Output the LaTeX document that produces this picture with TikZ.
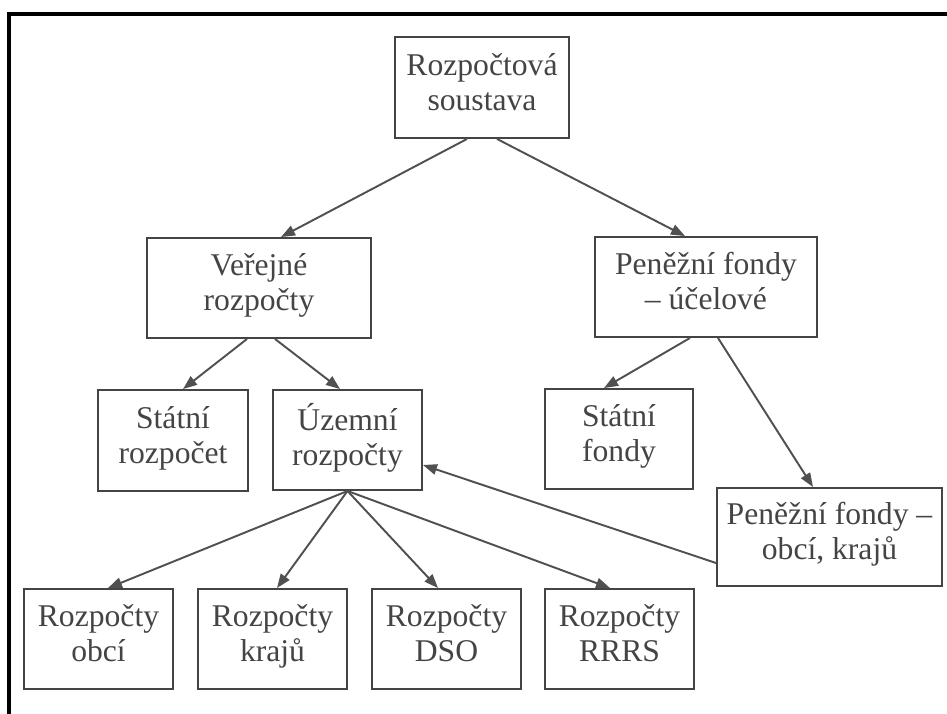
\documentclass[tikz,border=0pt]{standalone}
\usepackage{fontspec}
\setmainfont{Liberation Serif}
\usetikzlibrary{arrows.meta}

\definecolor{inkgray}{HTML}{444444}
\definecolor{linegray}{HTML}{505050}

\tikzset{
    box/.style={draw=inkgray, line width=1.1pt, text=inkgray, align=center,
        inner sep=0pt, font=\fontsize{18}{20}\selectfont,
        execute at begin node=\rule{0pt}{16.5pt},
        execute at end node=\rule[-6.7pt]{0pt}{6.7pt}},
    arr/.style={draw=linegray, line width=1.1pt,
        -{Triangle[length=2.8mm,width=2.1mm]}}
}

\begin{document}
\begin{tikzpicture}

    \useasboundingbox (0,0) rectangle (18.94,-14.26);

    % Frame
    \draw[line width=1.8pt] (0.18,-14.4) -- (0.18,-0.28) -- (19.1,-0.28);

    % Boxes
    \node[box, minimum width=3.48cm, minimum height=2.02cm] (rs) at (9.64,-1.75) {Rozpočtová\\soustava};

    \node[box, minimum width=4.48cm, minimum height=2cm] (vr) at (5.18,-5.76) {Veřejné\\rozpočty};
    \node[box, minimum width=4.44cm, minimum height=2cm] (pfu) at (14.12,-5.74) {Peněžní fondy\\– účelové};

    \node[box, minimum width=3cm, minimum height=2.02cm] (sr) at (3.46,-8.81) {Státní\\rozpočet};
    \node[box, minimum width=2.98cm, minimum height=2cm] (ur) at (6.95,-8.80) {Územní\\rozpočty};
    \node[box, minimum width=2.96cm, minimum height=2cm] (sf) at (12.38,-8.78) {Státní\\fondy};
    \node[box, minimum width=4.5cm, minimum height=1.96cm] (pfo) at (16.59,-10.74) {Peněžní fondy –\\obcí, krajů};

    \node[box, minimum width=2.98cm, minimum height=2cm] (ro) at (1.97,-12.78) {Rozpočty\\obcí};
    \node[box, minimum width=2.98cm, minimum height=2cm] (rk) at (5.45,-12.78) {Rozpočty\\krajů};
    \node[box, minimum width=2.98cm, minimum height=2cm] (rd) at (8.93,-12.78) {Rozpočty\\DSO};
    \node[box, minimum width=2.98cm, minimum height=2cm] (rr) at (12.39,-12.78) {Rozpočty\\RRRS};

    % Arrows
    \draw[arr] ([xshift=-0.3cm]rs.south) -- ([xshift=0.44cm]vr.north);
    \draw[arr] ([xshift=0.3cm]rs.south) -- ([xshift=-0.42cm]pfu.north);

    \draw[arr] ([xshift=-0.24cm]vr.south) -- ([xshift=0.2cm]sr.north);
    \draw[arr] ([xshift=0.32cm]vr.south) -- ([xshift=-0.15cm]ur.north);

    \draw[arr] ([xshift=-0.32cm]pfu.south) -- ([xshift=-0.3cm]sf.north);
    \draw[arr] ([xshift=0.24cm]pfu.south) -- ([xshift=-0.33cm]pfo.north);

    \draw[arr] (ur.south) -- ([xshift=0.19cm]ro.north);
    \draw[arr] (ur.south) -- ([xshift=0.09cm]rk.north);
    \draw[arr] (ur.south) -- ([xshift=-0.17cm]rd.north);
    \draw[arr] (ur.south) -- ([xshift=-0.19cm]rr.north);

    \draw[arr] ([yshift=-0.52cm]pfo.west) -- ([yshift=-0.5cm]ur.east);

\end{tikzpicture}
\end{document}
